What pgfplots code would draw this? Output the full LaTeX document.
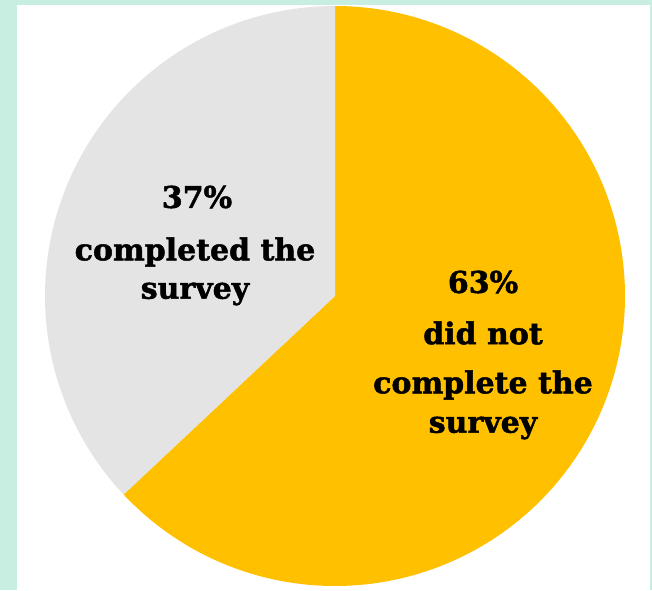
\documentclass[border=0pt]{standalone}
\usepackage{pgfplots}
\pgfplotsset{compat=1.18}
\usepackage{fontspec}
\setmainfont{DejaVu Serif}[BoldFeatures={FakeBold=1.6}]
\definecolor{mint}{RGB}{200,238,226}
\definecolor{ora}{RGB}{255,192,0}
\definecolor{gry}{RGB}{228,228,228}
\begin{document}
\begin{tikzpicture}
\def\vA{63}\def\vB{37}
\pgfmathsetmacro{\aStart}{90-3.6*\vA}
\pgfmathsetmacro{\bEnd}{90+3.6*\vB}
\begin{axis}[hide axis, scale only axis, width=652pt, height=590pt,
  xmin=0, xmax=652, ymin=0, ymax=590, clip=false]
\fill[mint] (axis cs:0,0) rectangle (axis cs:652,590);
\fill[white] (axis cs:17,0) rectangle (axis cs:650,585);
\addplot[draw=none, fill=ora, domain=\aStart:90, samples=300, variable=\t]
  ({335+290*cos(\t)},{294+290*sin(\t)}) -- (axis cs:335,294) -- cycle;
\addplot[draw=none, fill=gry, domain=90:\bEnd, samples=200, variable=\t]
  ({335+290*cos(\t)},{294+290*sin(\t)}) -- (axis cs:335,294) -- cycle;
\begin{scope}[every node/.style={font=\fontsize{30}{34}\selectfont\bfseries, inner sep=0pt, text=black}]
\node at (axis cs:197,393) {37\%};
\node at (axis cs:195,338) {completed the};
\node at (axis cs:195,296) {survey};
\node at (axis cs:483,308) {63\%};
\node at (axis cs:483,257) {did not};
\node at (axis cs:483,205) {complete the};
\node at (axis cs:483,162) {survey};
\end{scope}
\end{axis}
\end{tikzpicture}
\end{document}
